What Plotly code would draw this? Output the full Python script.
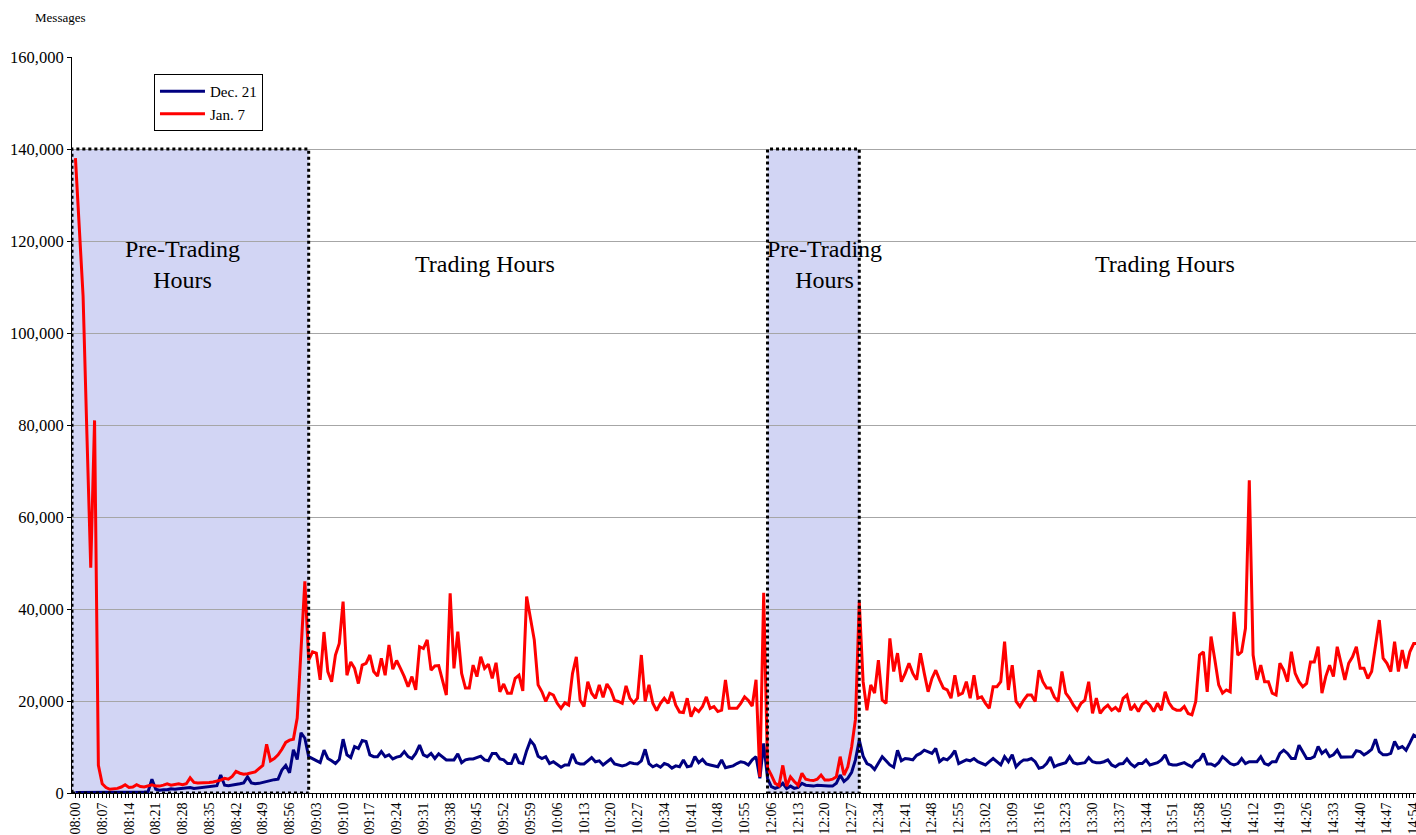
import plotly.graph_objects as go

# ---- categories (one per minute; lunch break 11:01-12:04 not shown) ----
def minutes(start, end):
    h0, m0 = map(int, start.split(":"))
    h1, m1 = map(int, end.split(":"))
    out = []
    for t in range(h0 * 60 + m0, h1 * 60 + m1 + 1):
        out.append(f"{t // 60:02d}:{t % 60:02d}")
    return out

morning_times = minutes("08:00", "11:00")
afternoon_times = minutes("12:05", "14:55")
times = morning_times + afternoon_times

# ---- series values (messages per minute) ----
jan7 = [
    138000, 122000, 108000, 78000, 49000, 81000, 6000, 2000, 1200, 800,      # 0
    900, 1000, 1300, 1800, 1200, 1300, 1800, 1400, 1300, 1600,               # 10
    1800, 1500, 1500, 1700, 2000, 1700, 1800, 2000, 1800, 2000,              # 20
    3300, 2300, 2200, 2200, 2300, 2300, 2400, 2600, 2800, 3200,              # 30
    3000, 3600, 4700, 4300, 4100, 4200, 4400, 4600, 5300, 6000,              # 40
    10600, 7000, 7500, 8300, 9500, 11000, 11500, 11700, 16300, 31900,        # 50
    46000, 28900, 30700, 30400, 24600, 35000, 26400, 24200, 30000, 32500,    # 60
    41600, 25600, 28500, 27100, 23800, 27800, 28200, 30000, 26400, 25400,    # 70
    29300, 25600, 32200, 26900, 28800, 27100, 25300, 23100, 25300, 22400,    # 80
    31800, 31400, 33300, 26700, 27600, 27700, 24200, 21300, 43400, 27100,    # 90
    35100, 26000, 22800, 22800, 27800, 25300, 29600, 27100, 28000, 24900,    # 100
    28300, 22000, 23700, 21700, 21700, 24900, 25600, 22200, 42700, 38000,    # 110
    33300, 23500, 22000, 19900, 21700, 21300, 19500, 18400, 19600, 19100,    # 120
    26000, 29600, 20200, 18800, 24200, 21700, 20600, 23500, 20800, 23700,    # 130
    22400, 20100, 19900, 19500, 23300, 20600, 19600, 20600, 30000, 19900,    # 140
    23500, 19500, 17900, 19500, 20600, 19500, 22000, 19100, 17600, 17500,    # 150
    20600, 16600, 18400, 17700, 18800, 20900, 18400, 18800, 17700, 18000,    # 160
    24600, 18400, 18400, 18400, 19500, 20900, 20100, 18900, 24600, 3500,     # 170
    43500, 5500, 3900, 2100, 1600, 6000, 1500, 3500, 2500, 1700,             # 180
    4300, 3000, 2800, 2700, 3000, 3900, 2800, 2800, 3000, 3500,              # 190
    7900, 3900, 5700, 10000, 16000, 41500, 24200, 18000, 23500, 21700,       # 200
    28900, 20200, 19500, 33600, 26400, 30400, 24200, 26000, 28200, 26000,    # 210
    24600, 30400, 26000, 22000, 24900, 26700, 24600, 22800, 22400, 20600,    # 220
    25600, 21300, 21700, 24200, 20600, 25600, 20600, 20900, 19500, 18400,    # 230
    23100, 23100, 24200, 32900, 22400, 27800, 19900, 18800, 20200, 21300,    # 240
    21300, 19900, 26700, 24200, 22800, 22800, 20900, 19900, 26400, 21700,    # 250
    20600, 19100, 18000, 19500, 20200, 24200, 17300, 20600, 17300, 18400,    # 260
    19100, 18000, 18600, 17700, 20600, 21300, 18000, 19100, 17700, 19300,    # 270
    19900, 19100, 17700, 19500, 18000, 22000, 19600, 18400, 18000, 18000,    # 280
    18800, 17300, 17000, 19900, 30000, 30700, 22000, 34000, 28900, 23500,    # 290
    21700, 22400, 22000, 39400, 30000, 30700, 35800, 68000, 30000, 24600,    # 300
    27800, 24200, 24200, 21700, 21300, 28200, 26700, 24200, 30700, 26000,    # 310
    24200, 23100, 23800, 28500, 28500, 31800, 21700, 25300, 27800, 25300,    # 320
    31800, 28200, 24600, 28200, 29600, 31800, 27100, 27100, 24900, 26400,    # 330
    31800, 37600, 29300, 28200, 26400, 32900, 26400, 31100, 27100, 30700,    # 340
    32500, 32500,                                                            # 350
]

dec21 = [
    100, 100, 100, 100, 100, 100, 100, 100, 100, 100,                        # 0
    100, 100, 100, 100, 100, 100, 100, 100, 200, 300,                        # 10
    3000, 800, 600, 700, 700, 900, 800, 900, 1000, 1100,                     # 20
    1200, 1000, 1100, 1200, 1300, 1400, 1500, 1600, 3900, 1700,              # 30
    1600, 1700, 1800, 2000, 2200, 3500, 2200, 2000, 2100, 2300,              # 40
    2600, 2800, 2900, 3000, 5000, 6000, 4400, 9400, 7300, 13100,             # 50
    11900, 7900, 7500, 7000, 6600, 9300, 7500, 7000, 6400, 7300,             # 60
    11700, 8300, 7700, 10100, 9700, 11400, 11200, 8300, 7900, 7900,          # 70
    9000, 7900, 8300, 7400, 7800, 8000, 9000, 7900, 7500, 8600,              # 80
    10400, 8300, 7900, 8600, 7500, 8500, 7800, 7200, 7200, 7200,             # 90
    8500, 6600, 7200, 7400, 7400, 7700, 8000, 7200, 7000, 8600,              # 100
    8600, 7400, 7200, 6400, 6400, 8500, 6600, 6400, 9200, 11400,             # 110
    10400, 8000, 7500, 7900, 6400, 6800, 6100, 5600, 6100, 6100,             # 120
    8500, 6600, 6300, 6300, 7000, 7700, 6800, 7000, 6100, 6800,              # 130
    7400, 6300, 6100, 5900, 6100, 6600, 6400, 6300, 7000, 9500,              # 140
    6400, 5700, 6100, 5600, 6400, 6100, 5400, 5900, 5700, 7200,              # 150
    5700, 5900, 7900, 6600, 7300, 6300, 6100, 5900, 5700, 7200,              # 160
    5500, 5700, 5900, 6400, 6800, 6600, 6100, 7200, 7900, 3200,              # 170
    10800, 3200, 1400, 1000, 1300, 2100, 1000, 1500, 1000, 1200,             # 180
    2100, 1700, 1600, 1500, 1700, 1700, 1600, 1500, 1500, 2100,              # 190
    3900, 2500, 3200, 4500, 7200, 11500, 8000, 6400, 6000, 5100,             # 200
    6500, 7900, 7000, 6100, 5600, 9300, 7000, 7500, 7400, 7200,              # 210
    8200, 8600, 9300, 8900, 8600, 9700, 6800, 7500, 7200, 8000,              # 220
    9200, 6400, 6800, 7200, 7000, 7500, 6800, 6400, 6100, 6800,              # 230
    7500, 6800, 6100, 7900, 6800, 8300, 5700, 6600, 7200, 7200,              # 240
    7500, 6800, 5400, 5600, 6400, 7800, 5700, 6100, 6400, 6600,              # 250
    7900, 6600, 6300, 6400, 6600, 7700, 6800, 6600, 6600, 6800,              # 260
    7200, 6100, 5700, 6300, 6400, 7400, 6300, 5700, 6400, 6400,              # 270
    7200, 6100, 6400, 6600, 7200, 8300, 6300, 6100, 6100, 6300,              # 280
    6600, 6100, 5700, 6800, 7200, 8600, 6300, 6300, 5900, 6600,              # 290
    7900, 7200, 6400, 6100, 6400, 7500, 6400, 6800, 6800, 6800,              # 300
    7900, 6400, 6100, 6800, 6800, 8600, 9300, 8600, 7500, 7500,              # 310
    10400, 9000, 7500, 7500, 7900, 10100, 8600, 9300, 7900, 8300,            # 320
    9300, 7800, 7800, 7800, 7900, 9200, 9000, 8300, 8800, 9500,              # 330
    11700, 9000, 8300, 8300, 8600, 11200, 9700, 10100, 9300, 10900,          # 340
    12600, 12100,                                                            # 350
]

# ---- tick labels / y-axis ----
tick_every = 7
y_ticks = [0, 20000, 40000, 60000, 80000, 100000, 120000, 140000, 160000]

# ---- shaded periods and labels ----
pre_trading = [("08:00", "09:01", -0.9), ("12:05", "12:29", 0.0)]
box_top = 140000
period_labels = [
    ("08:28", "Pre-Trading<br>Hours"),
    ("09:47", "Trading Hours"),
    ("12:20", "Pre-Trading<br>Hours"),
    ("13:49", "Trading Hours"),
]
label_y = 115000

pos = {t: i for i, t in enumerate(times)}
x_idx = list(range(len(times)))
tickvals = x_idx[::tick_every][:51]
ticktext = [times[i] for i in tickvals]

FONT = "Liberation Serif, Times New Roman, serif"

fig = go.Figure()
fig.add_trace(go.Scatter(x=x_idx, y=dec21, mode="lines", name="Dec. 21",
                         line=dict(color="#000080", width=3)))
fig.add_trace(go.Scatter(x=x_idx, y=jan7, mode="lines", name="Jan. 7",
                         line=dict(color="#ff0000", width=3)))

for start, end, pad in pre_trading:
    x0 = pos[start] + pad
    x1 = pos[end]
    fig.add_shape(type="rect", x0=x0, x1=x1, y0=0, y1=box_top, xref="x", yref="y",
                  fillcolor="#d2d5f4", line=dict(width=0), layer="below")
    fig.add_shape(type="rect", x0=x0, x1=x1, y0=0, y1=box_top, xref="x", yref="y",
                  fillcolor="rgba(0,0,0,0)", line=dict(color="black", width=3, dash="dot"),
                  layer="above")

for t, txt in period_labels:
    fig.add_annotation(x=pos[t], y=label_y, xref="x", yref="y", text=txt,
                       showarrow=False, font=dict(family=FONT, size=24, color="black"),
                       align="center")

fig.add_annotation(x=-0.029, y=1.053, xref="paper", yref="paper", text="Messages",
                   showarrow=False, xanchor="left", yanchor="middle",
                   font=dict(family=FONT, size=13, color="black"))

fig.update_layout(
    width=1416, height=835,
    margin=dict(l=72, r=0, t=57, b=42, autoexpand=False),
    paper_bgcolor="white", plot_bgcolor="white",
    font=dict(family=FONT, size=15, color="black"),
    showlegend=True,
    legend=dict(x=0.061, y=0.977, xanchor="left", yanchor="top",
                bordercolor="black", borderwidth=1, bgcolor="white",
                font=dict(family=FONT, size=15, color="black"),
                tracegroupgap=0, itemwidth=45),
    xaxis=dict(range=[-0.9, 350.6], tickmode="array", tickvals=tickvals, ticktext=ticktext,
               tickangle=-90, ticks="outside", ticklen=3, tickcolor="black",
               showline=True, linecolor="black", linewidth=1, showgrid=False, zeroline=False,
               automargin=False, ticklabeloverflow="allow",
               tickfont=dict(family=FONT, size=14),
               minor=dict(tickmode="linear", tick0=0, dtick=1, ticks="outside", ticklen=4,
                          tickcolor="black", showgrid=False)),
    yaxis=dict(range=[0, 160000], tickmode="array", tickvals=y_ticks, tickformat=",d",
               ticks="outside", ticklen=4, tickcolor="black", ticklabelstandoff=0,
               showline=True, linecolor="black", linewidth=1, automargin=False,
               showgrid=True, gridcolor="#a6a6a6", gridwidth=1, zeroline=False,
               tickfont=dict(family=FONT, size=16.5)),
)

fig.write_html("out.html", config={"displayModeBar": False},
               post_script="document.body.style.margin='0';")
